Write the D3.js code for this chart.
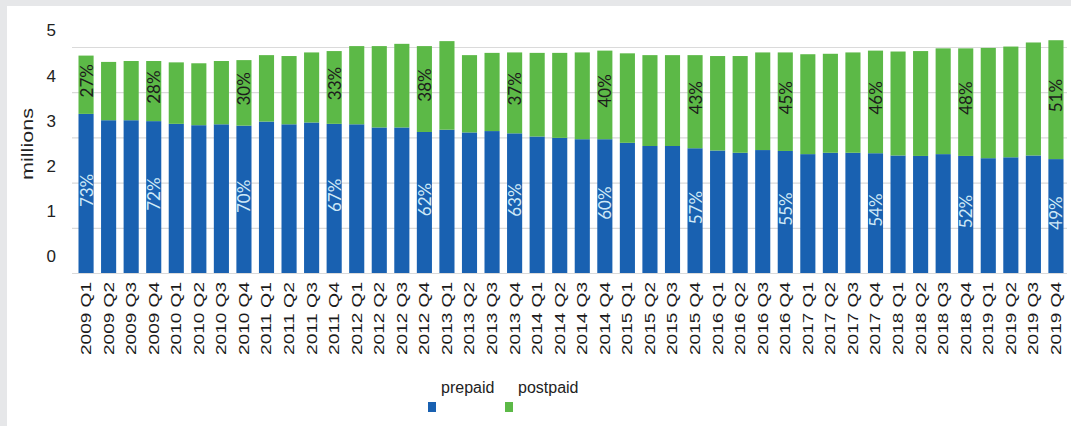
<!DOCTYPE html>
<html>
<head>
<meta charset="UTF-8">
<title>prepaid / postpaid</title>
<script src="https://cdn.jsdelivr.net/npm/d3@7"></script>
<style type="text/css">
	body { margin:0; background:#e6e7e9; }
	svg { display:block; }
	.tick text { font-family:"Liberation Sans", Arial, sans-serif; }
</style>
</head>
<body>
<script type="text/javascript">

// les données (millions)
var years = ['2009','2010','2011','2012','2013','2014','2015','2016','2017','2018','2019'];
var qs = ['Q1','Q2','Q3','Q4'];
var prepaid = [3.52,3.38,3.38,3.36, 3.30,3.27,3.29,3.26, 3.35,3.29,3.33,3.30,
	3.29,3.22,3.22,3.12, 3.17,3.11,3.14,3.09, 3.02,2.99,2.96,2.96,
	2.88,2.81,2.81,2.76, 2.71,2.66,2.72,2.70, 2.63,2.66,2.66,2.65,
	2.60,2.59,2.63,2.59, 2.54,2.56,2.60,2.52];
var postpaid = [1.29,1.29,1.31,1.33, 1.36,1.37,1.40,1.45, 1.47,1.51,1.55,1.61,
	1.73,1.80,1.85,1.90, 1.96,1.71,1.73,1.79, 1.85,1.88,1.92,1.96,
	1.98,2.01,2.01,2.06, 2.09,2.14,2.16,2.18, 2.21,2.19,2.22,2.27,
	2.30,2.32,2.34,2.38, 2.44,2.45,2.50,2.63];
// étiquettes de pourcentage
var labelIdx = [0,3,7,11,15,19,23,27,31,35,39,43];
var prepaidPct = ['73%','72%','70%','67%','62%','63%','60%','57%','55%','54%','52%','49%'];
var postpaidPct = ['27%','28%','30%','33%','38%','37%','40%','43%','45%','46%','48%','51%'];
var yTicks = [0,1,2,3,4,5];
var series = ['prepaid','postpaid'];

var W = 1071, H = 426,
 cBlue = '#1961b1', cGreen = '#5cb947', cGrid = '#dadada';

var quarters = [];
years.forEach(function(y){ qs.forEach(function(q){ quarters.push(y+' '+q); }); });

var rows = quarters.map(function(q,i){
	return {q:q, prepaid:prepaid[i], postpaid:postpaid[i]};
});
var stack = d3.stack().keys(series)(rows);

var x = d3.scaleBand()
	.domain(quarters)
	.range([78.5, 1063.5])
	.paddingInner(0.33)
	.paddingOuter(0);
var y = d3.scaleLinear()
	.domain([0,5])
	.range([273, 47]);
var color = d3.scaleOrdinal().domain(series).range([cBlue, cGreen]);

var svg = d3.select('body').append('svg')
	.attr('width',W)
	.attr('height',H);

// fond blanc
svg.append('rect')
	.attr('x',7).attr('y',6)
	.attr('width',W-7).attr('height',H-6)
	.attr('fill','white');

// grille + axe y
var gy = svg.append('g')
	.attr('transform','translate(72,0)')
	.call(d3.axisLeft(y).tickValues(yTicks).tickSize(-(1067-72)).tickFormat(d3.format('d')));
gy.select('.domain').remove();
gy.selectAll('.tick line').attr('stroke',cGrid).attr('stroke-width',1.2);
gy.selectAll('.tick text')
	.attr('x',-16)
	.attr('dy','-0.65em')
	.attr('fill','#222')
	.style('font-size','17px');

svg.append('text')
	.attr('transform','translate(33,144) rotate(-90)')
	.attr('text-anchor','middle')
	.attr('textLength',72)
	.attr('lengthAdjust','spacingAndGlyphs')
	.style('font-family','"Liberation Sans", Arial, sans-serif')
	.style('font-size','17px')
	.attr('fill','#222')
	.text('millions');

// barres
svg.selectAll('.serie')
	.data(stack).enter().append('g')
	.attr('class','serie')
	.attr('fill',function(d){ return color(d.key); })
	.selectAll('rect')
	.data(function(d){ return d; }).enter().append('rect')
	.attr('x',function(d){ return x(d.data.q); })
	.attr('y',function(d){ return y(d[1]); })
	.attr('width',x.bandwidth())
	.attr('height',function(d){ return y(d[0]) - y(d[1]); });

// pourcentages
function pctLabels(s, txt, fill, off){
	svg.append('g').selectAll('text')
		.data(labelIdx).enter().append('text')
		.attr('transform',function(i,k){
			var d = stack[s][i];
			var cx = x(quarters[i]) + x.bandwidth()/2;
			var cy = (y(d[0]) + y(d[1]))/2 + off;
			return 'translate('+cx+','+cy+') rotate(-90)';
		})
		.attr('text-anchor','middle')
		.attr('dominant-baseline','central')
		.style('font-family','Lato, "Open Sans", sans-serif')
		.style('font-size','17px')
		.attr('fill',fill)
		.text(function(i,k){ return txt[k]; });
}
pctLabels(0, prepaidPct, '#cfe9f7', -3);
pctLabels(1, postpaidPct, '#1c1c1c', -4);

// axe x
var gx = svg.append('g')
	.attr('transform','translate(0,273)')
	.call(d3.axisBottom(x).tickSize(0).tickPadding(0));
gx.select('.domain').remove();
gx.selectAll('.tick text')
	.attr('transform','rotate(-90)')
	.attr('x',-9)
	.attr('y',0)
	.attr('dy','0.35em')
	.attr('text-anchor','end')
	.attr('textLength',73)
	.attr('lengthAdjust','spacingAndGlyphs')
	.attr('fill','#1a1a1a')
	.style('font-size','14px');

// légende
var leg = svg.append('g').selectAll('g')
	.data(series).enter().append('g')
	.attr('transform',function(d,i){ return 'translate('+(428 + i*77)+',0)'; });
leg.append('rect')
	.attr('x',0).attr('y',402)
	.attr('width',8).attr('height',10)
	.attr('fill',function(d){ return color(d); });
leg.append('text')
	.attr('x',13).attr('y',393)
	.style('font-family','"Liberation Sans", Arial, sans-serif')
	.style('font-size','16px')
	.attr('fill','#222')
	.text(function(d){ return d; });

</script>
</body>
</html>
